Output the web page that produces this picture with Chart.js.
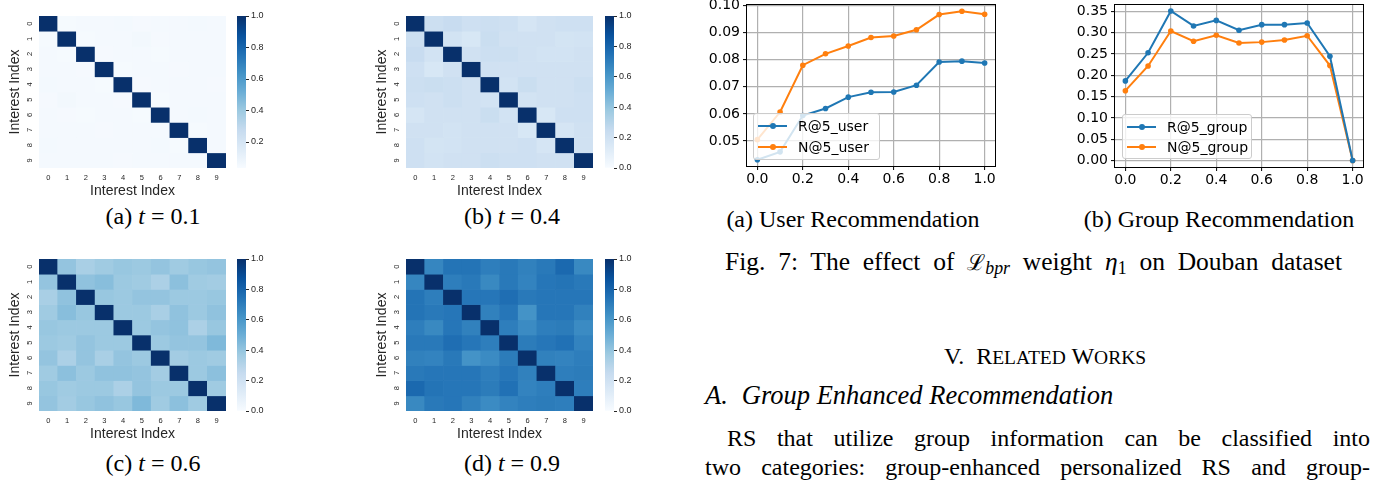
<!DOCTYPE html>
<html><head><meta charset="utf-8">
<script src="https://cdn.jsdelivr.net/npm/chart.js@4.4.0/dist/chart.umd.min.js"></script>
<style>
html,body{margin:0;padding:0;background:#fff;}
body{width:1387px;height:483px;position:relative;overflow:hidden;}
canvas{position:absolute;display:block;}
.t{position:absolute;font-family:'Liberation Serif','Times New Roman',serif;font-size:24px;line-height:24px;white-space:nowrap;color:#000;}
.ctr{text-align:center;}
.just{white-space:normal;text-align:justify;text-align-last:justify;}
.lg{position:absolute;background:rgba(255,255,255,0.8);border:1px solid #cccccc;border-radius:3px;box-sizing:border-box;font-family:'DejaVu Sans',sans-serif;font-size:14px;color:#000;}
.lg .h{position:absolute;height:2px;}
.lg .d{position:absolute;width:6px;height:6px;border-radius:50%;}
.lg .l{position:absolute;line-height:16px;white-space:nowrap;}
sub{font-size:70%;vertical-align:-0.25em;line-height:0;}
.sc{font-size:19.5px;}
</style></head><body>

<canvas id="hmA" width="230" height="200" style="left:0px;top:0px;width:230px;height:200px"></canvas>
<canvas id="cbA" width="40" height="200" style="left:237px;top:0px;width:40px;height:200px"></canvas>
<canvas id="hmB" width="230" height="200" style="left:367px;top:0px;width:230px;height:200px"></canvas>
<canvas id="cbB" width="40" height="200" style="left:605px;top:0px;width:40px;height:200px"></canvas>
<canvas id="hmC" width="230" height="200" style="left:0px;top:243px;width:230px;height:200px"></canvas>
<canvas id="cbC" width="40" height="200" style="left:237px;top:243px;width:40px;height:200px"></canvas>
<canvas id="hmD" width="230" height="200" style="left:367px;top:243px;width:230px;height:200px"></canvas>
<canvas id="cbD" width="40" height="200" style="left:605px;top:243px;width:40px;height:200px"></canvas>

<canvas id="lineUser" width="320" height="200" style="left:690px;top:0px;width:320px;height:200px"></canvas>
<canvas id="lineGroup" width="357" height="200" style="left:1030px;top:0px;width:357px;height:200px"></canvas>

<div class="t ctr" style="left:3px;top:204px;width:300px">(a) <i>t</i> = 0.1</div>
<div class="t ctr" style="left:362px;top:204px;width:300px">(b) <i>t</i> = 0.4</div>
<div class="t ctr" style="left:3px;top:451px;width:300px">(c) <i>t</i> = 0.6</div>
<div class="t ctr" style="left:362px;top:451px;width:300px">(d) <i>t</i> = 0.9</div>

<div class="t ctr" style="left:703px;top:207px;width:300px">(a) User Recommendation</div>
<div class="t ctr" style="left:1069px;top:207px;width:300px">(b) Group Recommendation</div>
<div class="t just" style="left:725px;top:250px;width:617px;font-size:25.5px">Fig. 7: The effect of <span style="font-family:'DejaVu Serif',serif;font-size:22px">ℒ</span><sub><i>bpr</i></sub> weight <i>η</i><sub>1</sub> on Douban dataset</div>

<div class="t ctr" style="left:895px;top:344px;width:300px">V.&nbsp;&nbsp;R<span class="sc">ELATED</span> W<span class="sc">ORKS</span></div>
<div class="t" style="left:705px;top:383px;font-style:italic;font-size:26.5px"><span style="margin-right:14px">A.</span>Group Enhanced Recommendation</div>
<div class="t just" style="left:727px;top:426px;width:643px">RS that utilize group information can be classified into</div>
<div class="t just" style="left:705px;top:455px;width:665px">two categories: group-enhanced personalized RS and group-</div>

<script>
// ---------------- data ----------------
const interestIndex = ['0','1','2','3','4','5','6','7','8','9'];

const simT01 = [
  [1.00,0.045,0.050,0.048,0.052,0.047,0.050,0.049,0.053,0.048],
  [0.045,1.00,0.046,0.049,0.050,0.058,0.047,0.050,0.049,0.050],
  [0.050,0.046,1.00,0.047,0.048,0.050,0.046,0.048,0.050,0.049],
  [0.048,0.049,0.047,1.00,0.046,0.049,0.050,0.047,0.048,0.050],
  [0.052,0.050,0.048,0.046,1.00,0.047,0.049,0.050,0.048,0.047],
  [0.047,0.058,0.050,0.049,0.047,1.00,0.046,0.049,0.050,0.048],
  [0.050,0.047,0.046,0.050,0.049,0.046,1.00,0.048,0.052,0.049],
  [0.049,0.050,0.048,0.047,0.050,0.049,0.048,1.00,0.046,0.050],
  [0.053,0.049,0.050,0.048,0.048,0.050,0.052,0.046,1.00,0.048],
  [0.048,0.050,0.049,0.050,0.047,0.048,0.049,0.050,0.048,1.00]
];
const simT04 = [
  [1.00,0.22,0.24,0.21,0.22,0.21,0.17,0.20,0.21,0.21],
  [0.22,1.00,0.19,0.16,0.23,0.20,0.20,0.20,0.18,0.19],
  [0.24,0.19,1.00,0.20,0.22,0.22,0.20,0.19,0.19,0.20],
  [0.21,0.16,0.20,1.00,0.20,0.20,0.20,0.20,0.20,0.20],
  [0.22,0.23,0.22,0.20,1.00,0.19,0.23,0.20,0.20,0.22],
  [0.21,0.20,0.22,0.20,0.19,1.00,0.19,0.20,0.20,0.21],
  [0.17,0.20,0.20,0.20,0.23,0.19,1.00,0.16,0.21,0.21],
  [0.20,0.20,0.19,0.20,0.20,0.20,0.16,1.00,0.17,0.20],
  [0.21,0.18,0.19,0.20,0.20,0.20,0.21,0.17,1.00,0.20],
  [0.21,0.19,0.20,0.20,0.22,0.21,0.21,0.20,0.20,1.00]
];
const simT06 = [
  [1.00,0.40,0.34,0.37,0.39,0.38,0.40,0.37,0.39,0.40],
  [0.40,1.00,0.41,0.43,0.38,0.37,0.33,0.42,0.37,0.36],
  [0.34,0.41,1.00,0.39,0.38,0.40,0.40,0.38,0.38,0.39],
  [0.37,0.43,0.39,1.00,0.38,0.38,0.34,0.41,0.38,0.41],
  [0.39,0.38,0.38,0.38,1.00,0.38,0.40,0.41,0.33,0.39],
  [0.38,0.37,0.40,0.38,0.38,1.00,0.38,0.40,0.40,0.45],
  [0.40,0.33,0.40,0.34,0.40,0.38,1.00,0.36,0.38,0.37],
  [0.37,0.42,0.38,0.41,0.41,0.40,0.36,1.00,0.38,0.42],
  [0.39,0.37,0.38,0.38,0.33,0.40,0.38,0.38,1.00,0.37],
  [0.40,0.36,0.39,0.41,0.39,0.45,0.37,0.42,0.37,1.00]
];
const simT09 = [
  [1.00,0.67,0.74,0.74,0.70,0.72,0.69,0.72,0.78,0.66],
  [0.67,1.00,0.70,0.72,0.66,0.72,0.68,0.73,0.74,0.72],
  [0.74,0.70,1.00,0.73,0.73,0.76,0.72,0.73,0.73,0.73],
  [0.74,0.72,0.73,1.00,0.69,0.73,0.62,0.73,0.73,0.69],
  [0.70,0.66,0.73,0.69,1.00,0.70,0.65,0.70,0.71,0.65],
  [0.72,0.72,0.76,0.73,0.70,1.00,0.71,0.73,0.75,0.68],
  [0.69,0.68,0.72,0.62,0.65,0.71,1.00,0.69,0.68,0.70],
  [0.72,0.73,0.73,0.73,0.70,0.73,0.69,1.00,0.70,0.71],
  [0.78,0.74,0.73,0.73,0.71,0.75,0.68,0.70,1.00,0.70],
  [0.66,0.72,0.73,0.69,0.65,0.68,0.70,0.71,0.70,1.00]
];
const colorbarMinT01 = 0.035;
const colorbarMin = 0.0;
const colorbarMax = 1.0;
const colorbarTicksT01 = [0.2,0.4,0.6,0.8,1.0];
const colorbarTicks = [0.0,0.2,0.4,0.6,0.8,1.0];

const eta = [0.0,0.1,0.2,0.3,0.4,0.5,0.6,0.7,0.8,0.9,1.0];
const etaTicks = [0.0,0.2,0.4,0.6,0.8,1.0];
const userR5 = [0.0431,0.0460,0.0594,0.0620,0.0662,0.0680,0.0681,0.0706,0.0792,0.0795,0.0788];
const userN5 = [0.0505,0.0607,0.0780,0.0822,0.0851,0.0882,0.0888,0.0911,0.0967,0.0979,0.0968];
const userTicks = [0.05,0.06,0.07,0.08,0.09,0.10];
const groupR5 = [0.187,0.253,0.351,0.316,0.329,0.306,0.319,0.319,0.323,0.245,0.000];
const groupN5 = [0.164,0.222,0.304,0.280,0.294,0.276,0.278,0.283,0.293,0.223,0.000];
const groupTicks = [0.00,0.05,0.10,0.15,0.20,0.25,0.30,0.35];
const seriesNames = {userR:'R@5_user', userN:'N@5_user', groupR:'R@5_group', groupN:'N@5_group'};

// ---------------- colormap ----------------
const BLUES = [[0,'#f7fbff'],[0.125,'#deebf7'],[0.25,'#c6dbef'],[0.375,'#9ecae1'],[0.5,'#6baed6'],[0.625,'#4292c6'],[0.75,'#2171b5'],[0.875,'#08519c'],[1,'#08306b']];
function hex2rgb(h){return [parseInt(h.slice(1,3),16),parseInt(h.slice(3,5),16),parseInt(h.slice(5,7),16)];}
function blues(t){
  t=Math.max(0,Math.min(1,t));
  for(let i=0;i<BLUES.length-1;i++){
    const [p0,c0]=BLUES[i],[p1,c1]=BLUES[i+1];
    if(t<=p1){const f=(t-p0)/(p1-p0);const a=hex2rgb(c0),b=hex2rgb(c1);
      return 'rgb('+a.map((v,k)=>Math.round(v+(b[k]-v)*f)).join(',')+')';}
  }
  return BLUES[BLUES.length-1][1];
}

Chart.defaults.animation=false;
Chart.defaults.devicePixelRatio=1;
const SEA='#262626';

function heatmap(id, matrix, vmin, vmax){
  new Chart(document.getElementById(id),{
    type:'bar',
    data:{labels:interestIndex,
      datasets:matrix.map((row,i)=>({label:interestIndex[i],data:row.map(()=>1),
        backgroundColor:row.map(v=>blues((v-vmin)/(vmax-vmin))),borderWidth:0,
        categoryPercentage:1,barPercentage:1}))},
    options:{responsive:false,events:[],
      layout:{padding:{top:16,right:4,left:0,bottom:0}},
      plugins:{legend:{display:false},tooltip:{enabled:false}},
      scales:{
        x:{stacked:true,grid:{display:false,drawTicks:false},border:{display:false},
          ticks:{font:{family:'Liberation Sans',size:7.5},color:SEA,padding:5,maxRotation:0,minRotation:0},
          title:{display:true,text:'Interest Index',font:{family:'Liberation Sans',size:14},color:SEA,padding:{top:0,bottom:0}},
          afterFit(s){s.height=32;s.paddingLeft=0;s.paddingRight=0;}},
        y:{stacked:true,reverse:true,min:0,max:matrix.length,grid:{display:false,drawTicks:false},border:{display:false},
          afterBuildTicks(s){s.ticks=interestIndex.map((_,i)=>({value:i+0.5}));},
          ticks:{callback:(v,i)=>interestIndex[i],minRotation:90,maxRotation:90,crossAlign:'center',padding:7,
            font:{family:'Liberation Sans',size:7.5},color:SEA},
          title:{display:true,text:'Interest Index',font:{family:'Liberation Sans',size:14},color:SEA,padding:{top:7,bottom:0}},
          afterFit(s){s.width=39;s.paddingTop=0;s.paddingBottom=0;}}
      }}
  });
}
function colorbar(id, vmin, vmax, ticks){
  new Chart(document.getElementById(id),{
    type:'bar',
    data:{labels:[''],datasets:[{data:[[vmin,vmax]],borderWidth:0,categoryPercentage:1,barPercentage:1,
      backgroundColor(ctx){const ch=ctx.chart,a=ch.chartArea;if(!a)return '#fff';
        const g=ch.ctx.createLinearGradient(0,a.bottom,0,a.top);BLUES.forEach(([p,c])=>g.addColorStop(p,c));return g;}}]},
    options:{responsive:false,events:[],
      layout:{padding:{top:16,bottom:32,left:0,right:1}},
      plugins:{legend:{display:false},tooltip:{enabled:false}},
      scales:{
        x:{display:false},
        y:{position:'right',min:vmin,max:vmax,
          afterBuildTicks(s){s.ticks=ticks.map(v=>({value:v}));},
          grid:{drawOnChartArea:false,drawTicks:true,tickLength:3,tickColor:SEA,tickWidth:1},border:{display:false},
          ticks:{font:{family:'Liberation Sans',size:9},color:SEA,padding:2,callback:v=>v.toFixed(1)},
          afterFit(s){s.width=30;s.paddingTop=0;s.paddingBottom=0;}}
      }}
  });
}
heatmap('hmA',simT01,colorbarMinT01,colorbarMax); colorbar('cbA',colorbarMinT01,colorbarMax,colorbarTicksT01);
heatmap('hmB',simT04,colorbarMin,colorbarMax); colorbar('cbB',colorbarMin,colorbarMax,colorbarTicks);
heatmap('hmC',simT06,colorbarMin,colorbarMax); colorbar('cbC',colorbarMin,colorbarMax,colorbarTicks);
heatmap('hmD',simT09,colorbarMin,colorbarMax); colorbar('cbD',colorbarMin,colorbarMax,colorbarTicks);

// ---------------- line charts ----------------
const framePlugin={id:'frame',afterDraw(chart){const {ctx,chartArea:a}=chart;ctx.save();ctx.strokeStyle='#000';ctx.lineWidth=1;
  ctx.strokeRect(Math.round(a.left)+0.5,Math.round(a.top)+0.5,Math.round(a.right-a.left)-1,Math.round(a.bottom-a.top)-1);ctx.restore();}};
function ds(label,ys,color){return {label,data:eta.map((x,i)=>({x,y:ys[i]})),borderColor:color,backgroundColor:color,
  pointBackgroundColor:color,pointBorderWidth:0,pointRadius:2.8,borderWidth:2,tension:0};}
function lineChart(id,datasets,yMin,yMax,yTicks,pad,yWidth,xHeight,legendBox){
  const FONT={family:'DejaVu Sans',size:14};
  const chart=new Chart(document.getElementById(id),{
    type:'line',data:{datasets},
    plugins:[framePlugin],
    options:{responsive:false,events:[],
      layout:{padding:pad},
      plugins:{legend:{display:false},tooltip:{enabled:false}},
      scales:{
        x:{type:'linear',min:-0.05,max:1.05,afterBuildTicks(s){s.ticks=etaTicks.map(v=>({value:v}));},
          ticks:{callback:v=>v.toFixed(1),font:FONT,color:'#000',padding:1,maxRotation:0},
          grid:{color:'#b0b0b0',lineWidth:1.2,tickColor:'#000',tickLength:3,tickWidth:1},border:{display:false},
          afterFit(s){s.height=xHeight;s.paddingLeft=0;s.paddingRight=0;}},
        y:{min:yMin,max:yMax,afterBuildTicks(s){s.ticks=yTicks.map(v=>({value:v}));},
          ticks:{callback:v=>v.toFixed(2),font:FONT,color:'#000',padding:3},
          grid:{color:'#b0b0b0',lineWidth:1.2,tickColor:'#000',tickLength:3,tickWidth:1},border:{display:false},
          afterFit(s){s.width=yWidth;s.paddingTop=0;s.paddingBottom=0;}}
      }}
  });
  // legend built from the chart's datasets
  const box=document.createElement('div');box.className='lg';
  Object.assign(box.style,{left:legendBox.left+'px',top:legendBox.top+'px',width:legendBox.w+'px',height:legendBox.h+'px'});
  chart.data.datasets.forEach((d,i)=>{
    const cy=legendBox.rows[i];
    const h=document.createElement('div');h.className='h';Object.assign(h.style,{left:'4px',width:'29px',top:(cy-1)+'px',background:d.borderColor});
    const dot=document.createElement('div');dot.className='d';Object.assign(dot.style,{left:'15.5px',top:(cy-3)+'px',background:d.borderColor});
    const l=document.createElement('div');l.className='l';l.textContent=d.label;Object.assign(l.style,{left:'44px',top:(cy-8)+'px'});
    box.appendChild(h);box.appendChild(dot);box.appendChild(l);
  });
  document.body.appendChild(box);
}
lineChart('lineUser',[ds(seriesNames.userR,userR5,'#1f77b4'),ds(seriesNames.userN,userN5,'#ff7f0e')],
  0.0404,0.1006,userTicks,{top:4,right:14,left:0,bottom:0},56,33,{left:753,top:113,w:127,h:47,rows:[12,33]});
lineChart('lineGroup',[ds(seriesNames.groupR,groupR5,'#1f77b4'),ds(seriesNames.groupN,groupN5,'#ff7f0e')],
  -0.0175,0.3675,groupTicks,{top:0,right:23,left:0,bottom:0},84,32,{left:1122,top:114,w:130,h:45,rows:[12,32]});
</script>
</body></html>
